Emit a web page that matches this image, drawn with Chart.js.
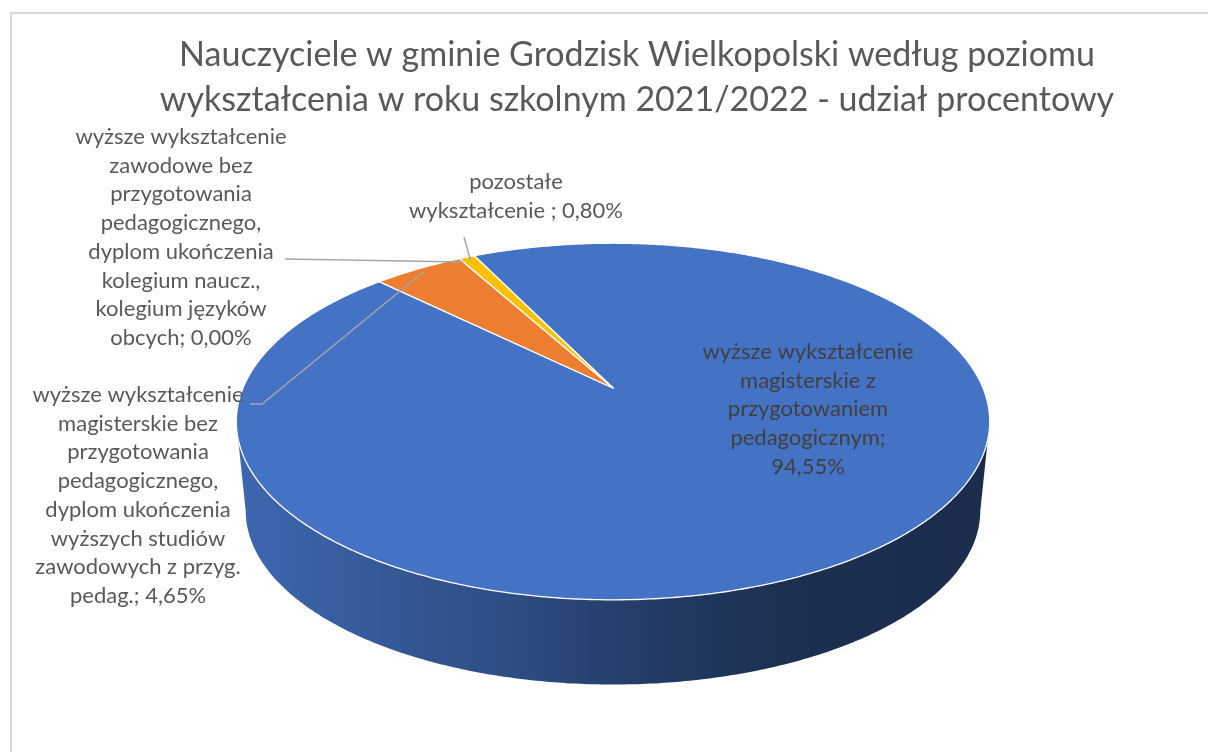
<!DOCTYPE html>
<html lang="pl">

<head>
  <meta charset="UTF-8" />
  <meta name="viewport" content="width=device-width, initial-scale=1.0" />
  <title>Nauczyciele - poziom wykształcenia</title>
  <style>
    * {
      margin: 0;
      padding: 0;
    }

    body {
      background: #ffffff;
      width: 1208px;
      height: 752px;
      overflow: hidden;
      position: relative;
    }

    .frame {
      position: absolute;
      left: 10px;
      top: 12px;
      width: 1300px;
      height: 900px;
      border: 2px solid #d9d9d9;
    }

    .chartBox {
      position: absolute;
      left: 0;
      top: 0;
      width: 1208px;
      height: 752px;
    }
  </style>
</head>

<body>
  <div class="frame"></div>
  <div class="chartBox">
    <canvas id="myChart" width="1208" height="752"></canvas>
  </div>
  <script src="https://cdn.jsdelivr.net/npm/chart.js@4.4.0/dist/chart.umd.min.js"></script>
  <script>
    // categories (with the line breaks used in the data labels)
    const categories = [
      "wyższe wykształcenie\nmagisterskie z\nprzygotowaniem\npedagogicznym",
      "wyższe wykształcenie\nmagisterskie bez\nprzygotowania\npedagogicznego,\ndyplom ukończenia\nwyższych studiów\nzawodowych z przyg.\npedag.",
      "wyższe wykształcenie\nzawodowe bez\nprzygotowania\npedagogicznego,\ndyplom ukończenia\nkolegium naucz.,\nkolegium języków\nobcych",
      "pozostałe\nwykształcenie ",
    ];
    const shares = [94.55, 4.65, 0.0, 0.8];
    const sliceColors = ["#4472C4", "#ED7D31", "#A5A5A5", "#FFC000"];
    const valueSep = [";\n", "; ", "; ", "; "];
    const titleLines = [
      "Nauczyciele w gminie Grodzisk Wielkopolski według poziomu",
      "wykształcenia w roku szkolnym 2021/2022 - udział procentowy",
    ];

    // where the labels sit, and where their leader lines start
    const labelPos = [
      { x: 808, y: 352, color: "#404040", line: null },
      { x: 138, y: 395, color: "#595959", line: [[250, 404], [262, 404]] },
      { x: 181, y: 137, color: "#595959", line: [[285, 259]] },
      { x: 516, y: 182, color: "#595959", line: [[464, 237]] },
    ];

    // 3d view of the disk (perspective tilt)
    const view = { cx: 613, cy: 388, a: 370, b: 172, k: 0.188, depth: 90, shrink: 0.975 };

    Chart.defaults.font.family = "Lato, 'Open Sans', sans-serif";

    function project(theta, r, bottom) {
      const u = r * Math.cos(theta);
      const v = r * Math.sin(theta);
      const w = 1 - view.k * v;
      const s = bottom ? view.shrink : 1;
      return [
        view.cx + (s * view.a * u) / w,
        view.cy + (bottom ? view.depth : 0) + (s * view.b * v) / w,
      ];
    }

    function edgePath(ctx, a0, a1, bottom, first) {
      const n = Math.max(2, Math.ceil(Math.abs(a1 - a0) / 0.01));
      for (let i = 0; i <= n; i++) {
        const p = project(a0 + ((a1 - a0) * i) / n, 1, bottom);
        if (i === 0 && first) ctx.moveTo(p[0], p[1]);
        else ctx.lineTo(p[0], p[1]);
      }
    }

    function shade(hex, f) {
      const n = parseInt(hex.slice(1), 16);
      const r = Math.round(((n >> 16) & 255) * f);
      const g = Math.round(((n >> 8) & 255) * f);
      const b = Math.round((n & 255) * f);
      return "rgb(" + r + "," + g + "," + b + ")";
    }

    function fmt(v) {
      return v.toFixed(2).replace(".", ",") + "%";
    }

    const pie3d = {
      id: "pie3d",
      beforeDatasetsDraw(chart) {
        const ctx = chart.ctx;
        const meta = chart.getDatasetMeta(0);
        const f0 = Math.asin(view.k);
        const f1 = Math.PI - f0;
        const arcs = meta.data.map((el) => el.getProps(["startAngle", "endAngle"], true));

        ctx.save();
        // side walls (front part only)
        arcs.forEach((arc, i) => {
          if (arc.endAngle - arc.startAngle <= 0) return;
          [-2 * Math.PI, 0, 2 * Math.PI].forEach((shift) => {
            const lo = Math.max(arc.startAngle, f0 + shift);
            const hi = Math.min(arc.endAngle, f1 + shift);
            if (hi <= lo) return;
            const col = sliceColors[i];
            const g = ctx.createLinearGradient(view.cx - view.a * 1.02, 0, view.cx + view.a * 1.02, 0);
            g.addColorStop(0, shade(col, 0.9));
            g.addColorStop(0.35, shade(col, 0.68));
            g.addColorStop(0.5, shade(col, 0.56));
            g.addColorStop(0.62, shade(col, 0.47));
            g.addColorStop(0.76, shade(col, 0.41));
            g.addColorStop(1, shade(col, 0.39));
            ctx.beginPath();
            edgePath(ctx, lo, hi, false, true);
            edgePath(ctx, hi, lo, true, false);
            ctx.closePath();
            ctx.fillStyle = g;
            ctx.fill();
          });
        });

        // top face
        const c = project(0, 0, false);
        arcs.forEach((arc, i) => {
          if (arc.endAngle - arc.startAngle <= 0) return;
          ctx.beginPath();
          ctx.moveTo(c[0], c[1]);
          edgePath(ctx, arc.startAngle, arc.endAngle, false, false);
          ctx.closePath();
          ctx.fillStyle = sliceColors[i];
          ctx.fill();
          ctx.lineWidth = 1.3;
          ctx.strokeStyle = "#ffffff";
          ctx.lineJoin = "round";
          ctx.stroke();
        });
        ctx.restore();
        return false;
      },
      afterDraw(chart) {
        const ctx = chart.ctx;
        const meta = chart.getDatasetMeta(0);
        ctx.save();
        meta.data.forEach((el, i) => {
          const arc = el.getProps(["startAngle", "endAngle"], true);
          const pos = labelPos[i];
          if (pos.line) {
            const mid = (arc.startAngle + arc.endAngle) / 2;
            const end = project(mid, 0.97, false);
            ctx.beginPath();
            ctx.moveTo(pos.line[0][0], pos.line[0][1]);
            for (let j = 1; j < pos.line.length; j++) ctx.lineTo(pos.line[j][0], pos.line[j][1]);
            ctx.lineTo(end[0], end[1]);
            ctx.strokeStyle = "#a6a6a6";
            ctx.lineWidth = 1.5;
            ctx.stroke();
          }
          const text = categories[i] + valueSep[i] + fmt(shares[i]);
          const lines = text.split("\n");
          ctx.font = "22px Lato, 'Open Sans', sans-serif";
          ctx.fillStyle = pos.color;
          ctx.textAlign = "center";
          ctx.textBaseline = "middle";
          lines.forEach((ln, j) => {
            ctx.fillText(ln, pos.x, pos.y + j * 28.7);
          });
        });
        ctx.restore();
      },
    };

    const data = {
      labels: categories.map((c) => c.replace(/\n/g, " ")),
      datasets: [
        {
          data: shares,
          backgroundColor: sliceColors,
          borderColor: "#ffffff",
          borderWidth: 1,
        },
      ],
    };

    const options = {
      responsive: false,
      animation: false,
      rotation: -26,
      layout: {
        padding: { left: 66, top: 0, right: 0, bottom: 0 },
      },
      plugins: {
        legend: { display: false },
        tooltip: { enabled: false },
        title: {
          display: true,
          text: titleLines,
          color: "#595959",
          font: { size: 34, weight: "normal", lineHeight: 1.32 },
          padding: { top: 33, bottom: 10 },
        },
      },
    };

    const config = {
      type: "pie",
      data: data,
      options: options,
      plugins: [pie3d],
    };

    const ctx = document.getElementById("myChart").getContext("2d");
    const myChart = new Chart(ctx, config);
  </script>
</body>

</html>
